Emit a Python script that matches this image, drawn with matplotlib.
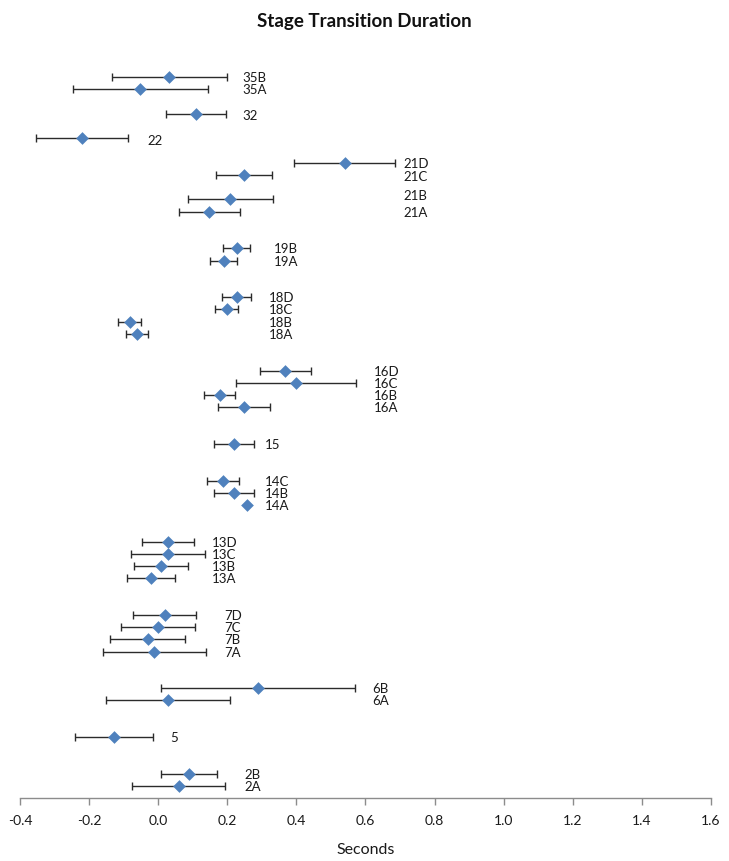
"""Stage transition duration: per-stage mean with horizontal error bars."""

import matplotlib

matplotlib.use("Agg")
import matplotlib.pyplot as plt

# Data (seconds)
stages = ["2A", "2B", "5", "6A", "6B", "7A", "7B", "7C", "7D",
          "13A", "13B", "13C", "13D", "14A", "14B", "14C", "15",
          "16A", "16B", "16C", "16D", "18A", "18B", "18C", "18D",
          "19A", "19B", "21A", "21B", "21C", "21D", "22", "32", "35A", "35B"]
row = [1, 2, 5, 8, 9, 12, 13, 14, 15,
       18, 19, 20, 21, 24, 25, 26, 29,
       32, 33, 34, 35, 38, 39, 40, 41,
       44, 45, 48, 49, 51, 52, 54, 56, 58, 59]
mean = [0.059, 0.088, -0.128, 0.029, 0.289, -0.011, -0.030, 0.000, 0.019,
        -0.021, 0.008, 0.029, 0.029, 0.258, 0.219, 0.188, 0.220,
        0.249, 0.178, 0.399, 0.368, -0.062, -0.082, 0.198, 0.228,
        0.190, 0.228, 0.148, 0.208, 0.249, 0.540, -0.221, 0.110, -0.052, 0.032]
err = [0.135, 0.081, 0.114, 0.179, 0.280, 0.149, 0.108, 0.108, 0.091,
       0.069, 0.078, 0.107, 0.075, 0.0, 0.057, 0.046, 0.058,
       0.075, 0.044, 0.174, 0.073, 0.032, 0.033, 0.033, 0.042,
       0.039, 0.039, 0.088, 0.123, 0.081, 0.146, 0.134, 0.086, 0.195, 0.167]
# where each stage's label sits along the x axis
label_x = [0.25, 0.25, 0.035, 0.62, 0.62, 0.19, 0.19, 0.19, 0.19,
           0.155, 0.155, 0.155, 0.155, 0.31, 0.31, 0.31, 0.31,
           0.625, 0.625, 0.625, 0.625, 0.32, 0.32, 0.32, 0.32,
           0.335, 0.335, 0.71, 0.71, 0.71, 0.71, -0.03, 0.245, 0.245, 0.245]
label_y = [1, 2, 5, 8, 9, 12, 13, 14, 15,
           18, 19, 20, 21, 24, 25, 26, 29,
           32, 33, 34, 35, 38, 39, 40, 41,
           44, 45, 48, 49.4, 50.9, 52, 53.9, 55.9, 58, 59]
x_ticks = [-0.4, -0.2, 0.0, 0.2, 0.4, 0.6, 0.8, 1.0, 1.2, 1.4, 1.6]

plt.rcParams["font.family"] = ["Lato", "DejaVu Sans"]

fig = plt.figure(figsize=(7.29, 8.62), dpi=100)
ax = fig.add_axes([0.0274, 0.0728, 0.9479, 0.879])

ax.errorbar(mean, row, xerr=err, fmt="none", ecolor="#2b2b2b",
            elinewidth=1.0, capsize=3.2, capthick=1.0, zorder=2)
ax.scatter(mean, row, marker="D", s=42, color="#4F81BD", zorder=3, linewidths=0)

for name, lx, ly in zip(stages, label_x, label_y):
    ax.text(lx, ly, name, fontsize=9.5, va="center", ha="left", color="#1a1a1a")

ax.set_xlim(-0.4, 1.6)
ax.set_ylim(0, 62)
ax.set_xticks(x_ticks)
ax.set_xticklabels([f"{t:.1f}" for t in x_ticks])
ax.set_yticks([])

for side in ["left", "right", "top"]:
    ax.spines[side].set_visible(False)
ax.spines["bottom"].set_color("#8c8c8c")
ax.spines["bottom"].set_linewidth(1.0)
ax.tick_params(axis="x", direction="out", length=5, width=1.0,
               color="#8c8c8c", labelsize=10, pad=6, labelcolor="#1a1a1a")

ax.set_xlabel("Seconds", fontsize=11.5, labelpad=12, color="#1a1a1a")
fig.suptitle("Stage Transition Duration", fontsize=13.5, fontweight="bold",
             x=0.5, y=0.985, va="top", color="#111111")

fig.savefig("out.png", dpi=100)
